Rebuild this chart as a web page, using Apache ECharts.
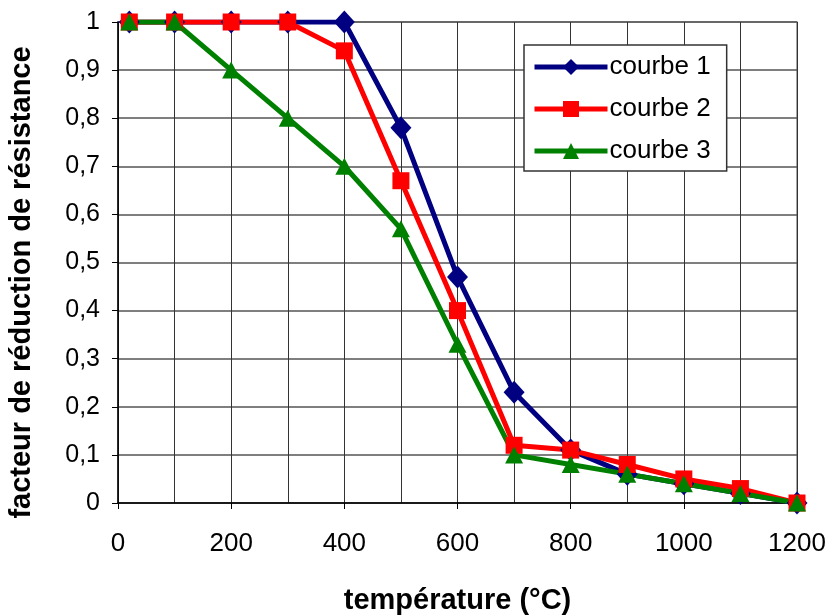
<!DOCTYPE html>
<html>
<head>
<meta charset="utf-8">
<script src="https://cdn.jsdelivr.net/npm/echarts@6/dist/echarts.min.js"></script>
<style>html,body{margin:0;padding:0;background:#fff}#c{width:829px;height:616px}</style>
</head>
<body>
<div id="c"></div>
<script>
const temperatures = [20, 100, 200, 300, 400, 500, 600, 700, 800, 900, 1000, 1100, 1200];
const courbe1 = [1, 1, 1, 1, 1, 0.78, 0.47, 0.23, 0.11, 0.06, 0.04, 0.02, 0];
const courbe2 = [1, 1, 1, 1, 0.94, 0.67, 0.40, 0.12, 0.11, 0.08, 0.05, 0.03, 0];
const courbe3 = [1, 1, 0.9, 0.8, 0.7, 0.57, 0.33, 0.10, 0.08, 0.06, 0.04, 0.02, 0];
const seriesNames = ['courbe 1', 'courbe 2', 'courbe 3'];
const xTitle = 'température (°C)';
const yTitle = 'facteur de réduction de résistance';

const pairs = arr => temperatures.map((t, i) => [t, arr[i]]);
const FONT = '"Liberation Sans", Arial, sans-serif';

const chart = echarts.init(document.getElementById('c'), null, {renderer: 'canvas'});
chart.setOption({
  animation: false,
  backgroundColor: '#fff',
  grid: {left: 118, right: 32, top: 22, bottom: 113, outerBoundsMode: 'none', containLabel: false,
    show: true, borderColor: '#888', borderWidth: 1.5, backgroundColor: 'transparent'},
  legend: {
    orient: 'vertical', left: 524, top: 45,
    padding: [9, 16, 7, 8], itemGap: 16, itemWidth: 73, itemHeight: 20,
    backgroundColor: '#fff', borderColor: '#333', borderWidth: 1.5,
    lineStyle: {width: 5},
    textStyle: {fontFamily: FONT, fontSize: 26, color: '#000', padding: [0, 0, 0, -3]},
    data: seriesNames
  },
  xAxis: {
    type: 'value', min: 0, max: 1200, interval: 200,
    name: xTitle, nameLocation: 'middle', nameGap: 83,
    nameTextStyle: {fontFamily: FONT, fontSize: 29, fontWeight: 'bold', color: '#000'},
    axisLine: {show: true, lineStyle: {color: '#000', width: 1.5}},
    axisTick: {show: true, length: 6, lineStyle: {color: '#000'}},
    axisLabel: {fontFamily: FONT, fontSize: 26, color: '#000', margin: 28, formatter: v => String(v)},
    splitLine: {show: true, lineStyle: {color: '#333', width: 1}},
    minorTick: {show: false, splitNumber: 2},
    minorSplitLine: {show: true, lineStyle: {color: '#333', width: 1}}
  },
  yAxis: {
    type: 'value', min: 0, max: 1, interval: 0.1,
    name: yTitle, nameLocation: 'middle', nameGap: 82, nameRotate: 90,
    nameTextStyle: {fontFamily: FONT, fontSize: 29, fontWeight: 'bold', color: '#000', padding: [0, 40, 0, 0]},
    axisLine: {show: true, lineStyle: {color: '#000', width: 1.5}},
    axisTick: {show: true, length: 6, inside: false, lineStyle: {color: '#000'}},
    axisLabel: {fontFamily: FONT, fontSize: 25, color: '#000', margin: 18,
      formatter: v => (Math.round(v * 10) / 10).toString().replace('.', ',')},
    splitLine: {show: true, lineStyle: {color: '#555', width: 1.5}}
  },
  series: [
    {name: seriesNames[0], type: 'line', data: pairs(courbe1), symbol: 'diamond', symbolSize: [21, 23],
     lineStyle: {color: '#000080', width: 5}, itemStyle: {color: '#000080'}},
    {name: seriesNames[1], type: 'line', data: pairs(courbe2), symbol: 'rect', symbolSize: 17,
     lineStyle: {color: '#ff0000', width: 5}, itemStyle: {color: '#ff0000'}},
    {name: seriesNames[2], type: 'line', data: pairs(courbe3), symbol: 'triangle', symbolSize: [18, 17],
     lineStyle: {color: '#008000', width: 5}, itemStyle: {color: '#008000'}}
  ]
});
</script>
</body>
</html>
